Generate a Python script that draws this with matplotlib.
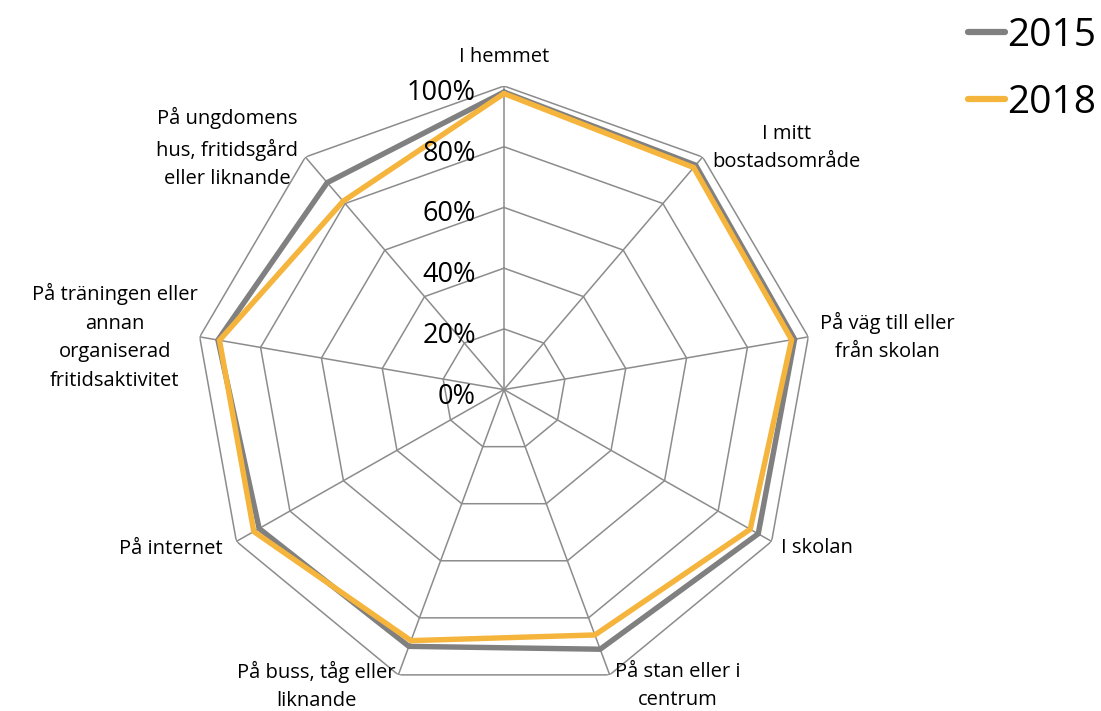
import numpy as np
import matplotlib
matplotlib.use("Agg")
import matplotlib.pyplot as plt

plt.rcParams['font.family'] = ['Open Sans', 'DejaVu Sans']

categories = ["I hemmet", "I mitt\nbostadsområde", "På väg till eller\nfrån skolan",
              "I skolan", "På stan eller i\ncentrum", "På buss, tåg eller\nliknande",
              "På internet", "På träningen eller\nannan\norganiserad\nfritidsaktivitet",
              "På ungdomens\nhus, fritidsgård\neller liknande"]
values_2015 = [0.98, 0.965, 0.955, 0.95, 0.91, 0.90, 0.915, 0.94, 0.89]
values_2018 = [0.975, 0.955, 0.945, 0.92, 0.86, 0.88, 0.935, 0.935, 0.81]
series_names = ["2015", "2018"]
series_colors = ["#808080", "#F5B43C"]
ring_values = [0.2, 0.4, 0.6, 0.8, 1.0]
tick_values = [0.0, 0.2, 0.4, 0.6, 0.8, 1.0]
tick_labels = ["0%", "20%", "40%", "60%", "80%", "100%"]

W, H = 1101, 711
fig = plt.figure(figsize=(W / 100, H / 100), dpi=100)
cx, cy = 504, 711 - 389.6
rx, ry = 309, 303.6
ax = fig.add_axes([(cx - rx) / W, (cy - ry) / H, 2 * rx / W, 2 * ry / H], projection='polar')
ax.set_aspect('auto')
ax.set_position([(cx - rx) / W, (cy - ry) / H, 2 * rx / W, 2 * ry / H])
ax.set_theta_zero_location('N')
ax.set_theta_direction(-1)
ax.set_ylim(0, 1)
ax.set_xticks([])
ax.set_yticks([])
ax.grid(False)
ax.spines['polar'].set_visible(False)
ax.patch.set_visible(False)

n = len(categories)
angles = np.arange(n) * 2 * np.pi / n
closed = np.append(angles, angles[0])

grid_color = "#8c8c8c"
for rv in ring_values:
    ax.plot(closed, [rv] * (n + 1), color=grid_color, lw=1.1, zorder=1)
for a in angles:
    ax.plot([a, a], [0, 1], color=grid_color, lw=1.1, zorder=1)

for vals, name, col in zip([values_2015, values_2018], series_names, series_colors):
    ax.plot(closed, np.append(vals, vals[0]), color=col, lw=3.9, label=name,
            solid_capstyle='round', solid_joinstyle='miter', zorder=3)

for tv, tl in zip(tick_values, tick_labels):
    ax.annotate(tl, xy=(0, tv), xycoords='data', xytext=(-28, -7), textcoords='offset pixels',
                ha='right', va='center', fontsize=19.5, color='black', zorder=5)

label_specs = [
    ((0, 29), 'center'),
    ((10, 9), 'left'),
    ((12, 0), 'left'),
    ((9, -7), 'left'),
    ((5, -11), 'left'),
    ((-3, -11), 'right'),
    ((-14, -8), 'right'),
    ((-2, 0), 'right'),
    ((-7, 9), 'right'),
]
for a, cat, (off, ha) in zip(angles, categories, label_specs):
    ax.annotate(cat, xy=(a, 1.0), xycoords='data', xytext=off, textcoords='offset pixels',
                ha=ha, va='center', multialignment='center', fontsize=14.5,
                linespacing=1.58, color='black', annotation_clip=False)

leg = fig.legend(loc='upper right', bbox_to_anchor=(1.0 + 5 / W, 1.0 - 7 / H), frameon=False,
                 fontsize=28, handlelength=0.95, handletextpad=0.05, labelspacing=0.75,
                 borderaxespad=0.05, borderpad=0.2)
for line in leg.get_lines():
    line.set_linewidth(4.5)
    line.set_solid_capstyle('round')

fig.savefig("out.png", dpi=100)
